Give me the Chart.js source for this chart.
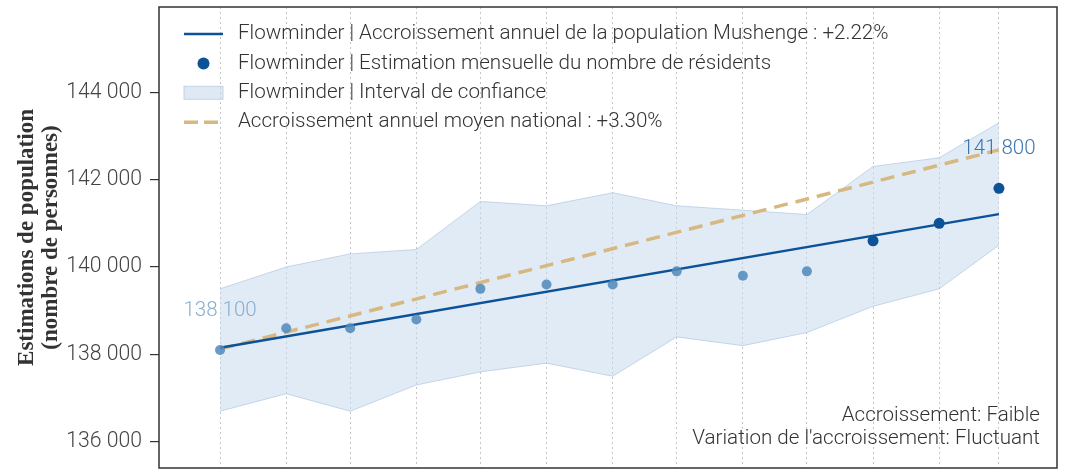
<!DOCTYPE html>
<html lang="fr">
<head>
<meta charset="utf-8">
<title>Mushenge – estimations de population</title>
<script src="https://cdn.jsdelivr.net/npm/chart.js@4.4.0/dist/chart.umd.min.js"></script>
<style>
  html, body { margin: 0; padding: 0; background: #fff; }
  canvas { display: block; }
</style>
</head>
<body>
<canvas id="chart-pop" width="1071" height="470"></canvas>
<script>
// Monthly estimates, first day of each month
const dates = [
  '2022-03-01', '2022-04-01', '2022-05-01', '2022-06-01', '2022-07-01',
  '2022-08-01', '2022-09-01', '2022-10-01', '2022-11-01', '2022-12-01',
  '2023-01-01', '2023-02-01', '2023-03-01',
];
const estimates = [
  138100, 138600, 138600, 138800, 139500, 139600, 139600,
  139900, 139800, 139900, 140600, 141000, 141800,
];
const ciUpper = [
  139500, 140000, 140300, 140400, 141500, 141400, 141700,
  141400, 141300, 141200, 142300, 142500, 143300,
];
const ciLower = [
  136700, 137100, 136700, 137300, 137600, 137800, 137500,
  138400, 138200, 138500, 139100, 139500, 140500,
];
// Annual trend lines, values at first and last date
const trendLocal = [138150, 141210];
const trendNational = [138120, 142680];
// Last three months are highlighted
const highlighted = [false, false, false, false, false, false, false, false, false, false, true, true, true];
const yTicks = [136000, 138000, 140000, 142000, 144000];

const legendLabels = [
  'Flowminder | Accroissement annuel de la population Mushenge : +2.22%',
  'Flowminder | Estimation mensuelle du nombre de résidents',
  'Flowminder | Interval de confiance',
  'Accroissement annuel moyen national : +3.30%',
];
const notes = ['Accroissement: Faible', "Variation de l'accroissement: Fluctuant"];

const BLUE = '#0b5299';
const BLUE_LIGHT = 'rgba(80,136,188,0.85)';
const TAN = '#d6b880';
const BAND = 'rgba(200,218,236,0.55)';
const BAND_EDGE = 'rgba(175,200,226,0.7)';
const FONT = 'Roboto, "Noto Sans", sans-serif';

const day0 = Date.parse(dates[0]);
const days = dates.map((d) => (Date.parse(d) - day0) / 86400000);
const lastDay = days[days.length - 1];

function fmt(n) {
  return String(Math.round(n)).replace(/\B(?=(\d{3})+(?!\d))/g, ' ');
}

const series = (vals) => vals.map((v, i) => ({ x: days[i], y: v }));
const ends = (vals) => [{ x: 0, y: vals[0] }, { x: lastDay, y: vals[1] }];

// frame around the plotting area
const framePlugin = {
  id: 'frame',
  afterDraw(chart) {
    const { ctx, chartArea: a } = chart;
    ctx.save();
    ctx.strokeStyle = '#333';
    ctx.lineWidth = 1.5;
    ctx.strokeRect(a.left, a.top, a.right - a.left, a.bottom - a.top);
    ctx.restore();
  },
};

// value labels on the first and last estimate
const endLabelsPlugin = {
  id: 'endLabels',
  afterDatasetsDraw(chart) {
    const { ctx } = chart;
    const pts = chart.getDatasetMeta(0).data;
    const items = [
      { i: 0, color: '#8aaed0' },
      { i: estimates.length - 1, color: '#3b76b0' },
    ];
    ctx.save();
    ctx.font = `300 20.5px ${FONT}`;
    ctx.textAlign = 'center';
    ctx.textBaseline = 'middle';
    items.forEach(({ i, color }) => {
      const p = pts[i];
      ctx.fillStyle = color;
      ctx.fillText(fmt(estimates[i]), p.x, p.y - 39);
    });
    ctx.restore();
  },
};

// legend in the top-left corner and notes in the bottom-right corner
const overlayPlugin = {
  id: 'overlay',
  afterDraw(chart) {
    const { ctx, chartArea: a } = chart;
    const x0 = a.left + 25;
    const x1 = a.left + 64;
    const tx = a.left + 79;
    const rowY = (k) => a.top + 27 + k * 29.4;
    ctx.save();
    ctx.lineCap = 'butt';

    let y = rowY(0);
    ctx.strokeStyle = BLUE;
    ctx.lineWidth = 2.5;
    ctx.beginPath(); ctx.moveTo(x0, y); ctx.lineTo(x1, y); ctx.stroke();

    y = rowY(1);
    ctx.fillStyle = BLUE;
    ctx.beginPath(); ctx.arc((x0 + x1) / 2, y, 6, 0, Math.PI * 2); ctx.fill();

    y = rowY(2);
    ctx.fillStyle = 'rgba(200,218,236,0.6)';
    ctx.fillRect(x0, y - 6.5, x1 - x0, 13);
    ctx.strokeStyle = BAND_EDGE;
    ctx.lineWidth = 1;
    ctx.strokeRect(x0, y - 6.5, x1 - x0, 13);

    y = rowY(3);
    ctx.strokeStyle = TAN;
    ctx.lineWidth = 3.5;
    ctx.setLineDash([14, 6]);
    ctx.beginPath(); ctx.moveTo(x0, y); ctx.lineTo(x1, y); ctx.stroke();
    ctx.setLineDash([]);

    ctx.fillStyle = '#333';
    ctx.font = `300 20.6px ${FONT}`;
    ctx.textAlign = 'left';
    ctx.textBaseline = 'middle';
    legendLabels.forEach((t, k) => ctx.fillText(t, tx, rowY(k)));

    ctx.textAlign = 'right';
    notes.forEach((t, k) => ctx.fillText(t, a.right - 17, a.bottom - 52 + k * 23));
    ctx.restore();
  },
};

const ctx = document.getElementById('chart-pop');
new Chart(ctx, {
  type: 'line',
  data: {
    datasets: [
      {
        label: legendLabels[1],
        data: series(estimates),
        showLine: false,
        pointRadius: highlighted.map((h) => (h ? 5.5 : 5)),
        pointBackgroundColor: highlighted.map((h) => (h ? BLUE : BLUE_LIGHT)),
        pointBorderWidth: 0,
      },
      {
        label: legendLabels[0],
        data: ends(trendLocal),
        borderColor: BLUE,
        borderWidth: 2.5,
        pointRadius: 0,
      },
      {
        label: legendLabels[3],
        data: ends(trendNational),
        borderColor: TAN,
        borderWidth: 3.5,
        borderDash: [14, 8],
        pointRadius: 0,
      },
      {
        label: 'ciUpper',
        data: series(ciUpper),
        borderColor: BAND_EDGE,
        borderWidth: 1,
        pointRadius: 0,
        fill: false,
      },
      {
        label: legendLabels[2],
        data: series(ciLower),
        borderColor: BAND_EDGE,
        borderWidth: 1,
        pointRadius: 0,
        backgroundColor: BAND,
        fill: '-1',
      },
    ],
  },
  options: {
    responsive: false,
    animation: false,
    events: [],
    layout: { autoPadding: false, padding: { top: 7, right: 14, bottom: 0, left: 0 } },
    plugins: {
      legend: { display: false },
      tooltip: { enabled: false },
    },
    scales: {
      x: {
        type: 'linear',
        min: -28.6,
        max: lastDay + 27.2,
        afterBuildTicks: (s) => { s.ticks = days.map((d) => ({ value: d })); },
        afterFit: (s) => { s.height = 2; s.paddingLeft = 0; s.paddingRight = 0; },
        ticks: { display: false },
        grid: { color: '#c4c4c4', lineWidth: 1, drawTicks: false },
        border: { display: false, dash: [2, 3] },
      },
      y: {
        min: 135400,
        max: 145950,
        afterBuildTicks: (s) => { s.ticks = yTicks.map((v) => ({ value: v })); },
        afterFit: (s) => { s.width = 159; s.paddingTop = 0; s.paddingBottom = 0; },
        ticks: {
          color: '#444',
          padding: 8,
          font: { family: FONT, size: 21.2, weight: 300 },
          callback: (v) => fmt(v),
        },
        grid: { drawOnChartArea: false, drawTicks: true, tickLength: 9, color: '#333', lineWidth: 1.2 },
        border: { display: false },
        title: {
          display: true,
          text: ['Estimations de population', '(nombre de personnes)'],
          color: '#333',
          padding: { top: 15 },
          font: { family: '"Liberation Serif", serif', size: 23, weight: 'bold', lineHeight: 1.04 },
        },
      },
    },
  },
  plugins: [framePlugin, endLabelsPlugin, overlayPlugin],
});
</script>
</body>
</html>
